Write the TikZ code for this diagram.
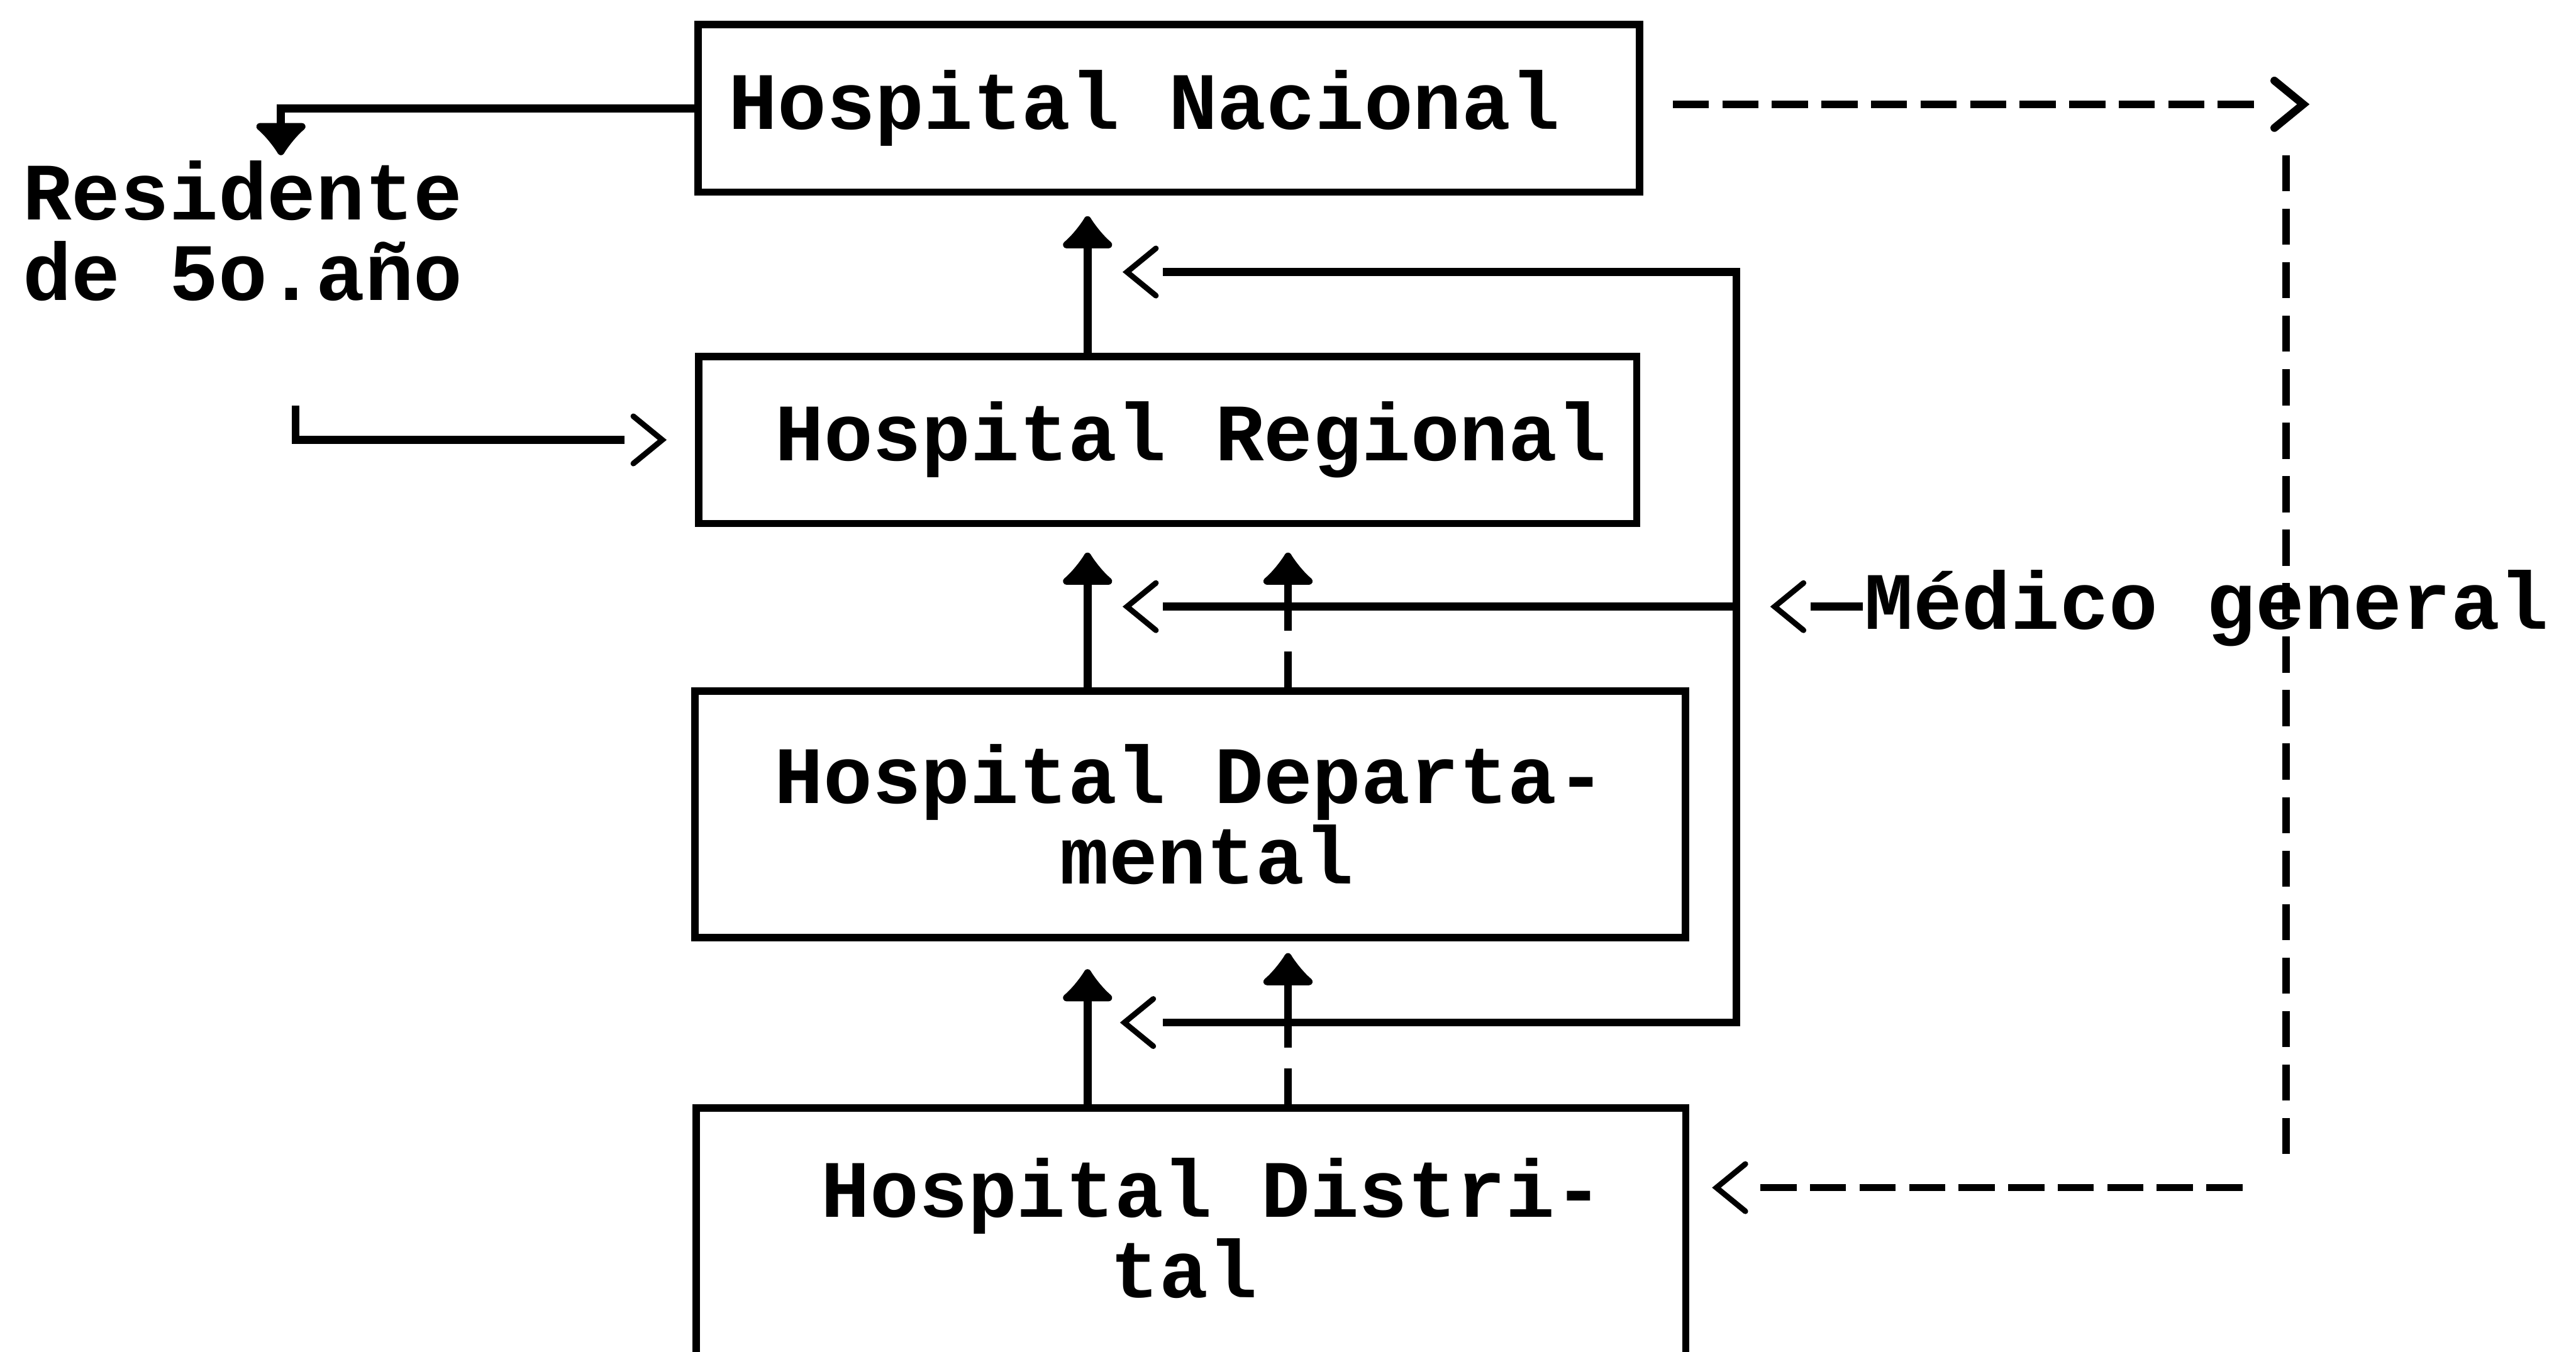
\documentclass[tikz,border=0pt]{standalone}
\usepackage{fontspec}
\newfontfamily\typewriter{Liberation Mono}
\newcommand\hospfont{\typewriter\bfseries\fontsize{12.4pt}{12.25pt}\selectfont}
\usetikzlibrary{arrows.meta}
\tikzset{
  fulltip/.tip={Latex[length=5.4pt,width=9.8pt,round]},
  hosp/.style={draw, line width=1.1pt, inner sep=0pt, align=center, font=\hospfont},
  conn/.style={line width=1.2pt},
  uparrow/.style={conn, -fulltip},
  dashup/.style={uparrow, dash pattern=on 5.5pt off 3.2pt on 30pt off 3pt},
  dashline/.style={line width=1.1pt, dash pattern=on 5.5pt off 2.04pt},
  chevstyle/.style={line width=0.85pt},
  chevron/.pic={\draw [line cap=round] (4.4pt,-3.6pt) -- (0pt,0pt) -- (4.4pt,3.6pt);}
}
\begin{document}
\begin{tikzpicture}[x=0.25pt,y=0.25pt,yscale=-1,xscale=1]
\useasboundingbox[fill=white] (0,0) rectangle (1568,823);

%Shape: Rectangle
\node (nac) [hosp, minimum width=143.25pt, minimum height=25.5pt] at (711.5,66) {Hospital Nacional\hspace*{7.5pt}};
%Shape: Rectangle
\node (reg) [hosp, minimum width=142.75pt, minimum height=25.4pt] at (710.8,267.8) {\hspace*{7pt}Hospital Regional};
%Shape: Rectangle
\node (dep) [hosp, minimum width=150.75pt, minimum height=37.5pt] at (724.5,495.8) {Hospital Departa-\\\hspace*{5pt}mental};
%Shape: Rectangle
\node (dis) [hosp, minimum width=150.6pt, inner ysep=7.6pt, anchor=north] at (725,672.4) {\hspace*{6.5pt}Hospital Distri-\\tal\hspace*{2.2pt}\rule[-12pt]{0pt}{12pt}};

% Text Node
\node (res) [anchor=north west, inner sep=0pt, align=left, font=\hospfont] at (13,97) {Residente\\de 5o.año};
% Text Node
\node (med) [anchor=base west, inner sep=0pt, font=\hospfont] at (1134,383) {Médico general};

\coordinate (lx) at (662,0);
\coordinate (rx) at (784,0);
\coordinate (restop) at (171,94.5);
\coordinate (regfeed) at (180,247);
\coordinate (fbtop) at (1057,165.6);
\coordinate (fbmid) at (1057,369.3);
\coordinate (fbbot) at (1057,622.5);
\coordinate (dtop) at (1402,63.5);
\coordinate (dv1) at (1391.5,94.5);
\coordinate (dv2) at (1391.5,703);
\coordinate (dbot) at (1365,723);

%Straight Lines
\draw [uparrow] (nac.west) -| (restop);
\draw [conn, shorten >=10.75pt] (regfeed) |- (reg.west);
\pic [chevstyle, rotate=180] at ([xshift=-5pt]reg.west) {chevron};

%Straight Lines
\draw [uparrow, shorten >=3.1pt] (reg.north -| lx) -- (nac.south -| lx);
\draw [uparrow, shorten >=3.9pt] (dep.north -| lx) -- (reg.south -| lx);
\draw [dashup, shorten >=3.9pt] (dep.north -| rx) -- (reg.south -| rx);
\draw [uparrow, shorten >=4.25pt] (dis.north -| lx) -- (dep.south -| lx);
\draw [dashup, shorten >=1.8pt] (dis.north -| rx) -- (dep.south -| rx);

%Straight Lines
\draw [conn, shorten <=11.5pt, shorten >=11.5pt] (fbtop -| lx) -- (fbtop) -- (fbbot) -- (fbbot -| lx);
\pic [chevstyle] at ([xshift=6pt]fbtop -| lx) {chevron};
\pic [chevstyle] at ([xshift=5.6pt]fbbot -| lx) {chevron};
\draw [conn, shorten >=11.5pt] (fbmid) -- (fbmid -| lx);
\pic [chevstyle] at ([xshift=6pt]fbmid -| lx) {chevron};
\draw [conn, shorten >=11.3pt] (med.west |- fbmid) -- (fbmid);
\pic [chevstyle] at ([xshift=5.8pt]fbmid) {chevron};

%Straight Lines
\draw [dashline, shorten <=4.5pt, shorten >=7.4pt] (nac.east |- dtop) -- (dtop);
\pic [chevstyle, line width=1.2pt, rotate=180] at (dtop) {chevron};
\draw [dashline, dash pattern=on 5.5pt off 2.64pt] (dv1) -- (dv2);
\draw [dashline, shorten >=10.8pt] (dbot) -- (dbot -| dis.east);
\pic [chevstyle] at ([xshift=4.1pt]dbot -| dis.east) {chevron};

\end{tikzpicture}
\end{document}
